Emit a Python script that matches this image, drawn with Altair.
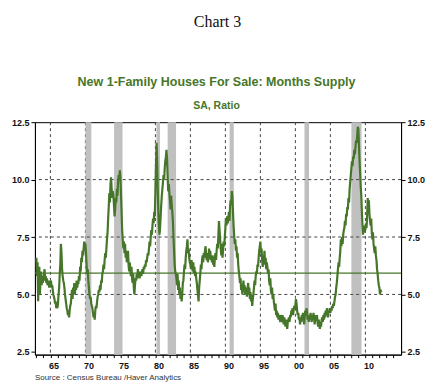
import altair as alt
import pandas as pd

# Monthly months' supply (Jan..Dec per year)
supply_1963_1969 = [
    6.6, 5.8, 6.4, 4.7, 5.9, 6.2, 5.0, 5.6, 6.0, 5.4, 5.8, 5.5,
    5.7, 5.9, 6.1, 5.6, 5.8, 5.5, 5.7, 5.4, 5.6, 5.5, 5.3, 5.6,
    5.5, 5.6, 5.3, 5.4, 5.2, 5.0, 4.9, 4.8, 4.6, 4.7, 4.4, 4.5,
    4.4, 4.6, 5.0, 5.3, 5.9, 6.3, 7.2, 6.8, 6.1, 5.8, 5.6, 5.5,
    5.3, 5.0, 4.8, 4.6, 4.4, 4.3, 4.1, 4.2, 4.0, 4.3, 4.5, 4.6,
    4.9, 5.2, 4.8, 5.3, 5.1, 5.5, 5.0, 5.4, 5.2, 5.6, 5.3, 5.5,
    5.5, 5.8, 5.6, 6.2, 6.0, 6.6, 6.4, 6.9, 6.7, 7.0, 7.3, 7.1,
]
supply_1970_1979 = [
    7.2, 6.8, 6.3, 5.9, 6.1, 5.6, 5.3, 5.0, 4.8, 4.9, 4.6, 4.5,
    4.4, 4.2, 4.0, 4.1, 3.9, 4.3, 4.5, 4.4, 4.7, 4.9, 5.0, 5.2,
    5.1, 5.4, 5.2, 5.6, 5.5, 5.9, 6.0, 6.3, 6.1, 6.5, 6.8, 6.6,
    7.0, 7.4, 7.7, 8.3, 8.8, 9.4, 9.0, 9.8, 10.1, 9.6, 9.2, 9.5,
    9.3, 8.9, 8.4, 8.7, 9.2, 9.0, 9.6, 9.3, 9.9, 10.2, 10.0, 10.4,
    10.1, 9.4, 8.6, 7.8, 7.4, 7.0, 7.3, 6.8, 7.2, 6.6, 6.9, 6.4,
    6.6, 6.9, 6.3, 6.0, 6.4, 6.1, 5.8, 6.2, 5.7, 5.5, 5.9, 5.3,
    5.0, 5.4, 5.7, 5.6, 5.9, 5.7, 6.1, 5.8, 6.0, 5.7, 6.0, 5.9,
    5.8, 6.0, 6.1, 5.9, 6.2, 6.1, 6.3, 6.2, 6.5, 6.4, 6.6, 6.8,
    6.7, 7.0, 7.3, 7.1, 7.5, 7.8, 7.6, 8.0, 8.3, 8.1, 8.6, 8.4,
]
supply_1980_1989 = [
    9.5, 10.6, 11.6, 10.8, 9.6, 8.6, 8.0, 7.6, 7.9, 8.4, 8.9, 9.3,
    9.6, 9.9, 10.2, 10.0, 10.5, 10.8, 11.0, 11.3, 10.9, 10.1, 9.5, 9.8,
    9.4, 9.1, 8.7, 9.3, 8.9, 8.6, 8.2, 7.5, 6.9, 6.3, 6.0, 5.9,
    5.7, 5.4, 5.9, 5.2, 5.6, 5.0, 5.3, 4.8, 5.1, 4.7, 5.0, 5.5,
    5.6, 6.0, 6.3, 6.1, 6.6, 6.9, 7.1, 7.4, 6.8, 7.0, 6.6, 6.4,
    6.3, 6.1, 6.5, 6.2, 6.0, 6.4, 5.9, 6.2, 5.8, 6.0, 5.7, 5.5,
    5.2, 5.0, 4.7, 5.3, 5.6, 5.9, 6.3, 6.1, 6.5, 6.7, 6.4, 6.8,
    6.6, 6.9, 7.1, 6.7, 6.5, 6.8, 6.4, 6.6, 7.0, 6.7, 6.9, 6.5,
    6.6, 6.4, 6.7, 6.3, 6.5, 6.2, 6.6, 6.8, 6.5, 6.9, 7.2, 7.0,
    7.6, 8.2, 7.8, 7.4, 7.0, 6.7, 7.2, 6.6, 6.9, 7.3, 7.1, 7.5,
]
supply_1990_1999 = [
    7.9, 8.3, 8.0, 8.4, 8.1, 8.3, 8.6, 8.2, 8.8, 9.1, 8.9, 9.5,
    9.3, 8.6, 8.0, 7.6, 7.2, 7.4, 6.9, 7.1, 6.6, 6.8, 6.3, 6.0,
    5.8, 5.5, 5.7, 5.2, 5.4, 5.0, 5.3, 5.6, 5.1, 5.4, 5.0, 5.2,
    5.3, 4.9, 5.2, 5.5, 5.0, 5.3, 4.8, 5.1, 4.7, 5.0, 4.5, 4.8,
    5.0, 5.3, 5.6, 5.4, 5.8, 6.0, 5.9, 6.3, 6.2, 6.6, 6.9, 7.1,
    7.3, 6.8, 7.0, 6.5, 6.2, 6.7, 6.4, 6.9, 6.3, 6.6, 6.1, 6.4,
    6.2, 5.9, 6.1, 5.6, 5.4, 5.7, 5.2, 5.0, 5.3, 4.8, 5.0, 4.7,
    4.5, 4.3, 4.6, 4.1, 4.3, 4.0, 4.2, 3.9, 4.1, 4.0, 3.8, 4.1,
    4.0, 3.8, 4.1, 3.9, 3.7, 4.0, 3.8, 3.6, 3.9, 3.7, 3.5, 3.8,
    3.9, 4.0, 3.8, 4.1, 4.0, 4.3, 4.2, 4.4, 4.1, 4.3, 4.5, 4.4,
]
supply_2000_2012 = [
    4.5, 4.8, 4.6, 4.3, 4.1, 4.2, 3.9, 4.0, 3.7, 3.9, 3.8, 4.1,
    4.0, 4.2, 3.9, 3.7, 4.0, 4.3, 4.1, 4.4, 4.2, 3.9, 4.1, 3.8,
    4.1, 3.9, 4.2, 4.0, 3.8, 4.1, 3.9, 4.2, 4.0, 3.7, 3.9, 4.1,
    3.9, 4.1, 3.8, 3.6, 3.9, 3.7, 3.5, 3.8, 3.6, 3.9, 4.0, 3.8,
    4.1, 3.9, 4.2, 4.0, 4.3, 4.1, 4.4, 4.2, 4.0, 4.3, 4.2, 4.4,
    4.2, 4.4, 4.3, 4.5, 4.4, 4.6, 4.5, 4.7, 4.9, 5.0, 5.3, 5.5,
    5.8, 6.1, 6.4, 6.2, 6.6, 6.9, 7.4, 7.1, 7.5, 7.2, 7.6, 7.8,
    7.9, 8.2, 8.0, 8.5, 8.4, 8.8, 8.7, 9.2, 9.0, 9.6, 9.9, 10.2,
    10.5, 10.8, 10.6, 11.0, 10.9, 11.3, 11.1, 11.4, 11.7, 11.6, 11.9, 12.3,
    12.2, 11.5, 10.8, 10.3, 9.7, 9.3, 8.6, 8.0, 7.6, 7.9, 7.7, 8.0,
    7.8, 8.1, 7.9, 8.4, 9.2, 8.8, 9.1, 8.5, 8.2, 8.0, 8.3, 7.7,
    7.4, 7.7, 7.2, 7.0, 6.8, 7.1, 6.7, 6.5, 6.1, 5.9, 5.6, 5.4,
    5.3, 5.0, 5.2, 5.1,
]

# Recession periods (decimal years)
rec_start = [1970.0, 1974.1, 1980.15, 1981.75, 1990.6, 2001.3, 2008.0]
rec_end = [1970.85, 1975.3, 1980.65, 1982.95, 1991.2, 2001.95, 2009.45]

mean_level = [5.93]
y_ticks = [2.5, 5.0, 7.5, 10.0, 12.5]
y_grid = [5.0, 7.5, 10.0]
x_grid = [1965, 1970, 1975, 1980, 1985, 1990, 1995, 2000, 2005, 2010]
x_labels = ["65", "70", "75", "80", "85", "90", "95", "00", "05", "10"]
x_years = list(range(1963, 2015))

values = (supply_1963_1969 + supply_1970_1979 + supply_1980_1989
          + supply_1990_1999 + supply_2000_2012)
dates = [1963 + i / 12 for i in range(len(values))]
df = pd.DataFrame({"t": dates, "v": values})
rec = pd.DataFrame({"s": rec_start, "e": rec_end})
mean_df = pd.DataFrame({"m": mean_level})
ygrid_df = pd.DataFrame({"g": y_grid})
xgrid_df = pd.DataFrame({"g": x_grid, "lab": x_labels})

W, H = 367, 233
GREEN = "#467629"
XDOM = [1962.79, 2015.1]
YDOM = [2.38, 12.5]

xscale = alt.Scale(domain=XDOM, nice=False, zero=False)
yscale = alt.Scale(domain=YDOM, nice=False, zero=False)

common_y = dict(
    values=y_ticks, title=None, format=".1f", grid=False, labelOverlap=False,
    labelFont="Liberation Sans", labelFontWeight="bold", labelFontSize=9,
    labelColor="#111111", tickSize=4, tickColor="#000000", domainColor="#000000",
)
y_axis_left = alt.Axis(orient="left", **common_y)
y_axis_right = alt.Axis(orient="right", **common_y)

# x axis: domain line + a small tick at every year, no labels
x_axis = alt.Axis(
    values=x_years, title=None, grid=False, labels=False,
    tickSize=3, tickColor="#000000", domainColor="#000000", orient="bottom",
)

bars = alt.Chart(rec).mark_rect(color="#c0c0c0").encode(
    x=alt.X("s:Q", scale=xscale, axis=x_axis),
    x2="e:Q",
    y=alt.value(0),
    y2=alt.value(H),
)

vgrid = alt.Chart(xgrid_df).mark_rule(
    color="#444444", strokeDash=[3, 3], strokeWidth=1
).encode(x=alt.X("g:Q", scale=xscale, axis=x_axis))

# year labels, centred on mid-year under each 5-year gridline
xlab = alt.Chart(xgrid_df).transform_calculate(
    mid="datum.g + 0.5"
).mark_text(
    font="Liberation Sans", fontWeight="bold", fontSize=9, color="#111111",
    baseline="top", dy=7
).encode(
    x=alt.X("mid:Q", scale=xscale, axis=x_axis),
    y=alt.value(H),
    text="lab:N",
)

hgrid = alt.Chart(ygrid_df).mark_rule(
    color="#444444", strokeDash=[3, 3], strokeWidth=1
).encode(y=alt.Y("g:Q", scale=yscale, axis=y_axis_left))

line = alt.Chart(df).mark_line(color=GREEN, strokeWidth=2.2).encode(
    x=alt.X("t:Q", scale=xscale, axis=x_axis),
    y=alt.Y("v:Q", scale=yscale, axis=None),
)

mean_rule = alt.Chart(mean_df).mark_rule(color=GREEN, strokeWidth=1.2).encode(
    y=alt.Y("m:Q", scale=yscale, axis=y_axis_right),
)

def label(text, x, y, **kw):
    return alt.Chart(mean_df).mark_text(**kw).encode(
        x=alt.value(x), y=alt.value(y), text=alt.value(text)
    )

t1 = label("Chart 3", 183, -100, font="Liberation Serif", fontSize=16,
           color="#111111", align="center")
t2 = label("New 1-Family Houses For Sale: Months Supply", 182, -40,
           font="Liberation Sans", fontSize=12.5, fontWeight="bold",
           color=GREEN, align="center")
t3 = label("SA, Ratio", 182, -16, font="Liberation Sans", fontSize=10.5,
           fontWeight="bold", color=GREEN, align="center")
t4 = label("Source :  Census  Bureau /Haver Analytics", 0, 256,
           font="Liberation Sans", fontSize=8, color="#333333", align="left")

chart = alt.layer(vgrid, bars, hgrid, line, mean_rule, xlab, t1, t2, t3, t4).resolve_axis(
    y="independent"
).properties(
    width=W, height=H,
    autosize=alt.AutoSizeParams(type="none"),
    padding={"left": 27, "top": 114, "right": 32, "bottom": 30},
).configure_view(stroke="#000000", strokeWidth=1)

chart.save("out.html", embed_options={"renderer": "svg", "actions": False})
